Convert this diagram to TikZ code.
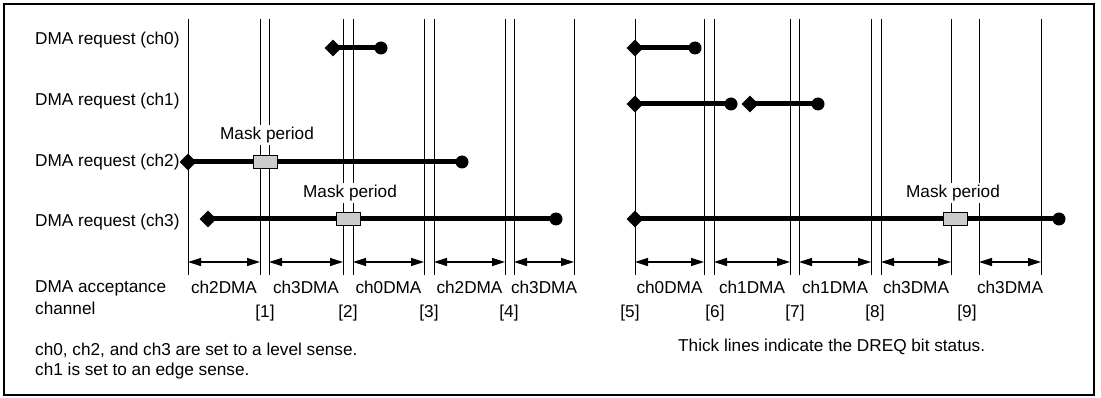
\documentclass[tikz,border=0pt]{standalone}
\usepackage{fontspec}
\setmainfont{Liberation Sans}
\usepackage{tikz}
\usetikzlibrary{shapes.geometric,arrows.meta,positioning,calc}

\begin{document}
\begin{tikzpicture}[
    x=1pt, y=-1pt,
    font=\fontsize{17.2}{20}\selectfont,
    vline/.style={line width=1pt},
    span/.style={{Triangle[length=13pt,width=8pt]}-{Triangle[length=13pt,width=8pt]}, line width=1.2pt},
    req/.style={line width=5pt},
    start/.style={diamond, fill=black, inner sep=0pt, minimum width=17pt, minimum height=17pt},
    stop/.style={circle, fill=black, inner sep=0pt, minimum size=13pt},
    mask/.style={draw, fill=black!20, line width=0.8pt, inner sep=0pt, minimum width=24pt, minimum height=13pt},
    masklabel/.style={fill=white, inner sep=1.5pt},
    lbl/.style={anchor=west, inner sep=0pt}
]
\useasboundingbox (0,0) rectangle (1101,398);
\draw[line width=2pt] (4,4) rectangle (1094,395);

% time lines
\foreach \n/\x in {L0/188, L1a/260, L1b/269, L2a/343, L2b/353, L3a/424, L3b/434, L4a/505, L4b/514, L5/574,
                   R0/635, R1a/704, R1b/714, R2a/790, R2b/799, R3a/871, R3b/881, R4a/951, R4b/979, R5/1041} {
  \coordinate (\n top) at (\x,19);
  \coordinate (\n bot) at (\x,275);
  \coordinate (\n arr) at (\x,262);
  \draw[vline] (\n top) -- (\n bot);
}

\node[lbl] (req0) at (35,40) {DMA request (ch0)};
\node[lbl] (req1) at (35,101) {DMA request (ch1)};
\node[lbl] (req2) at (35,162) {DMA request (ch2)};
\node[lbl] (req3) at (35,222) {DMA request (ch3)};
\node[lbl] (acc) at (35,288) {DMA acceptance};
\node[lbl] (accch) at (35,308) {channel};

\node[masklabel] (mp1) at (267,135) {Mask period};
\node[masklabel] (mp2) at (350,193) {Mask period};
\node[masklabel] (mp3) at (953,193) {Mask period};

% DREQ status
\foreach \s/\e/\y [count=\i] in {333/381/48, 188/462/162, 208/556/219, 635/695/48, 635/731/104, 750/818/104, 635/1059/219} {
  \coordinate (bar\i s) at (\s,\y);
  \coordinate (bar\i e) at (\e,\y);
  \draw[req] (bar\i s) -- (bar\i e);
  \node[start] at (bar\i s) {};
  \node[stop] at (bar\i e) {};
}

\node[mask] (m1) at (265,162) {};
\node[mask] (m2) at (348,219) {};
\node[mask] (m3) at (955,219) {};

% acceptance periods
\foreach \a/\b/\t in {L0/L1a/ch2DMA, L1b/L2a/ch3DMA, L2b/L3a/ch0DMA, L3b/L4a/ch2DMA, L4b/L5/ch3DMA,
                      R0/R1a/ch0DMA, R1b/R2a/ch1DMA, R2b/R3a/ch1DMA, R3b/R4a/ch3DMA, R4b/R5/ch3DMA}
  \draw[span] (\a arr) -- node[midway, yshift=-25pt] {\t} (\b arr);

\foreach \k/\x in {1/265, 2/348, 3/429, 4/509, 5/630, 6/715, 7/795, 8/875, 9/967}
  \node (n\k) at (\x,313) {[\k]};

\node[lbl] (note1) at (35,350) {ch0, ch2, and ch3 are set to a level sense.};
\node[lbl] (note2) at (35,371) {ch1 is set to an edge sense.};
\node[lbl] (note3) at (678,347) {Thick lines indicate the DREQ bit status.};
\end{tikzpicture}
\end{document}
